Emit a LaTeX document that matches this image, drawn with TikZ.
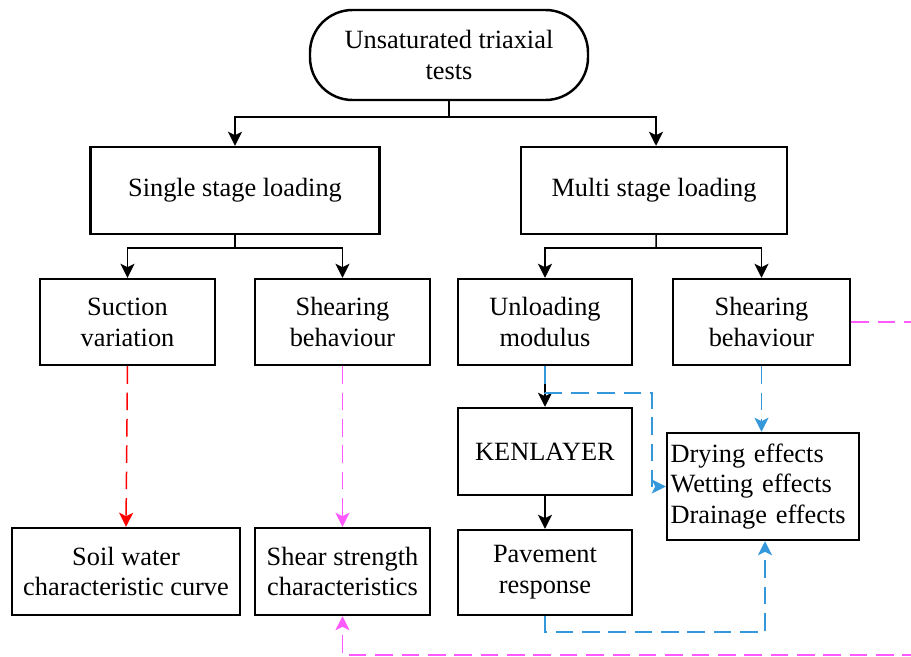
\documentclass[tikz,border=0pt]{standalone}
\usepackage{fontspec}
\setmainfont{Liberation Serif}
\usepackage{xcolor}
\usepackage{tikz}
\usetikzlibrary{arrows.meta,positioning,calc}
\definecolor{lineblue}{RGB}{52,152,219}
\definecolor{linepink}{RGB}{255,90,255}
\definecolor{linered}{RGB}{255,0,0}

\begin{document}
\begin{tikzpicture}[>={Stealth[length=8pt,width=8pt,inset=2pt]},
  font=\fontsize{15}{17.6}\selectfont,
  box/.style={draw,line width=1.4pt,align=center,minimum height=1.74cm,inner sep=2pt},
  link/.style={line width=0.85pt},
  dashlink/.style={line width=0.85pt,dash pattern=on 10pt off 5pt}]
  \useasboundingbox (0,0) rectangle (18.22,-13.14);
  \node[box,rounded corners=0.85cm,minimum width=5.56cm,minimum height=1.8cm] (tests) at (8.98,-1.1) {Unsaturated triaxial\\tests};
  \node[box,minimum width=5.78cm] (single) at (4.7,-3.81) {Single stage loading};
  \node[box,minimum width=5.32cm] (multi) at (13.08,-3.81) {Multi stage loading};
  \node[box,minimum width=3.5cm,minimum height=1.72cm] (suction) at (2.55,-6.44) {Suction\\variation};
  \node[box,minimum width=3.5cm,minimum height=1.72cm] (shearA) at (6.85,-6.44) {Shearing\\behaviour};
  \node[box,minimum width=3.48cm,minimum height=1.72cm] (unload) at (10.9,-6.44) {Unloading\\modulus};
  \node[box,minimum width=3.54cm,minimum height=1.72cm] (shearB) at (15.23,-6.44) {Shearing\\behaviour};
  \node[box,minimum width=3.48cm] (kenlayer) at (10.9,-9.03) {KENLAYER};
  \node[box,minimum width=3.48cm,minimum height=1.7cm] (pavement) at (10.9,-11.45) {Pavement\\response};
  \node[box,align=left,text width=3.7cm,inner xsep=0.07cm,minimum height=2.14cm] (effects) at (15.26,-9.73) {Drying effects\\Wetting effects\\Drainage effects};
  \node[box,minimum width=4.56cm] (swcc) at (2.52,-11.43) {Soil water\\characteristic curve};
  \node[box,minimum width=3.5cm] (strength) at (6.85,-11.43) {Shear strength\\characteristics};

  \coordinate (j1) at (8.98,-2.34);
  \coordinate (j2) at (4.7,-4.96);
  \coordinate (j3) at (13.12,-4.96);
  \draw[link] (tests.south) -- (j1);
  \draw[link,->] (j1) -| (single.north);
  \draw[link,->] (j1) -| ($(multi.north)+(0.04,0)$);
  \draw[link] (single.south) -- (j2);
  \draw[link,->] (j2) -| (suction.north);
  \draw[link,->] (j2) -| (shearA.north);
  \draw[link] ($(multi.south)+(0.04,0)$) -- (j3);
  \draw[link,->] (j3) -| (unload.north);
  \draw[link,->] (j3) -| (shearB.north);
  \draw[link,->] (unload.south) -- (kenlayer.north);
  \draw[link,->] (kenlayer.south) -- (pavement.north);

  \draw[dashlink,linered,->] (suction.south) -- (swcc.north);
  \draw[dashlink,linepink,->] (shearA.south) -- (strength.north);

  \coordinate (k1) at (13.04,-7.86);
  \draw[dashlink,lineblue,->] (unload.south) |- (k1) |- (effects.west);
  \draw[dashlink,lineblue,->] (shearB.south) -- (effects.north -| shearB.south);
  \coordinate (p1) at (15.3,-12.64);
  \draw[dashlink,lineblue,->] (pavement.south) |- (p1) -- (effects.south -| p1);

  \coordinate (m1) at (18.6,-13.1);
  \draw[dashlink,linepink,->] (shearB.east) -| (m1) -| (strength.south);
\end{tikzpicture}
\end{document}
